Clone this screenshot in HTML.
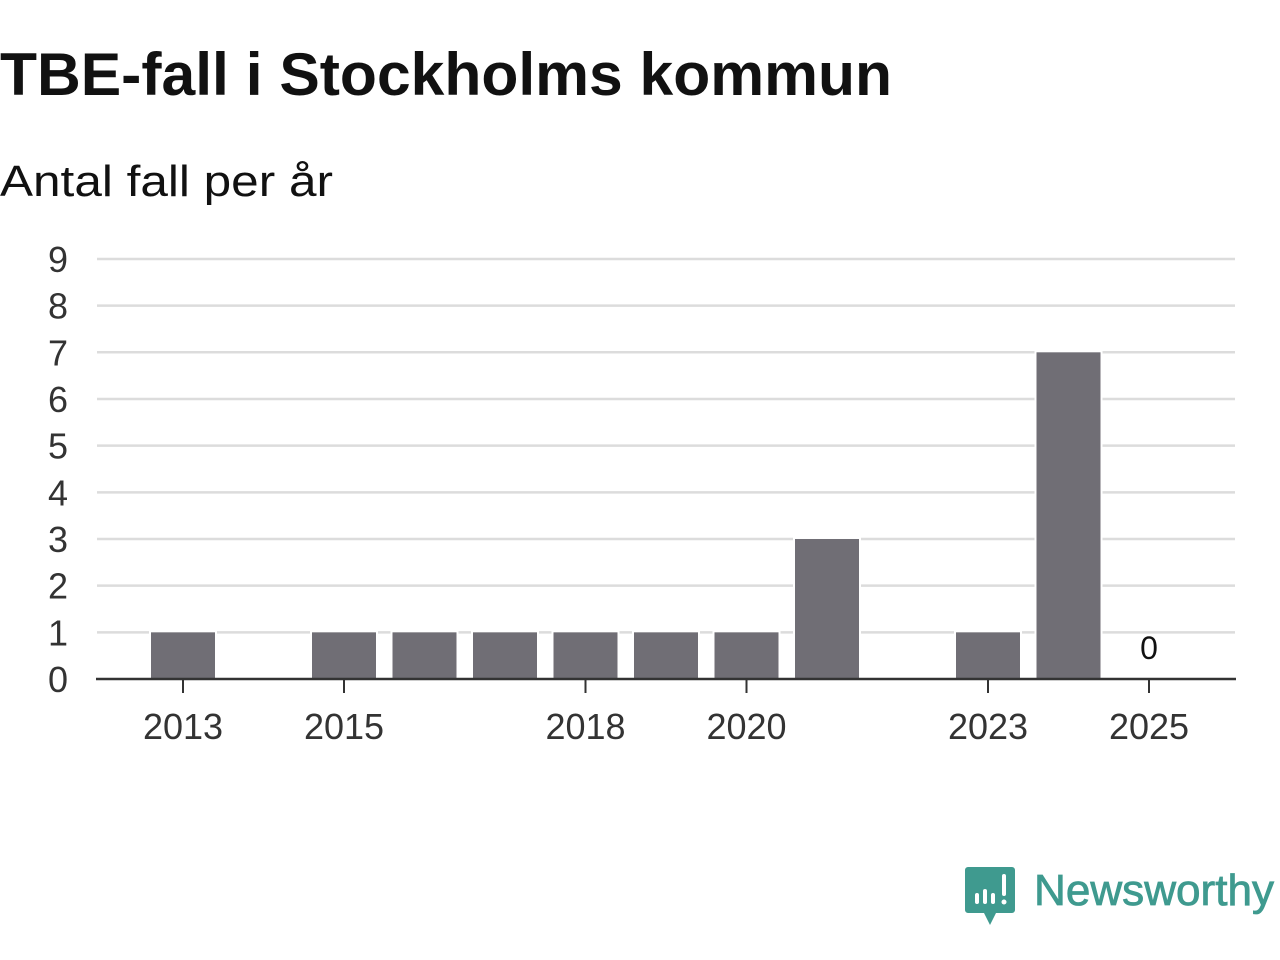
<!DOCTYPE html>
<html><head><meta charset="utf-8"><style>
html,body{margin:0;padding:0;background:#fff;width:1280px;height:960px;overflow:hidden}
svg{display:block;font-family:"Liberation Sans",sans-serif}
</style></head><body>
<svg id="c" width="1280" height="960">
<text x="0" y="95" font-size="60" font-weight="bold" fill="#111" textLength="892" lengthAdjust="spacingAndGlyphs">TBE-fall i Stockholms kommun</text>
<text x="0" y="196" font-size="44" fill="#111" textLength="333" lengthAdjust="spacingAndGlyphs">Antal fall per år</text>
<g id="grid"></g><g id="bars"></g><g id="axes"></g>
<g>
<path d="M968 867 h44 a3 3 0 0 1 3 3 v40 a3 3 0 0 1 -3 3 h-16 l-6 12 l-6 -12 h-16 a3 3 0 0 1 -3 -3 v-40 a3 3 0 0 1 3 -3z" fill="#3f9a8f"/>
<rect x="975" y="893" width="4" height="11" rx="2" fill="#fff"/>
<rect x="983" y="889" width="4" height="15" rx="2" fill="#fff"/>
<rect x="991" y="893" width="4" height="11" rx="2" fill="#fff"/>
<rect x="1002" y="874" width="4" height="22" rx="2" fill="#fff"/>
<circle cx="1004" cy="902" r="2.5" fill="#fff"/>
<text x="1034" y="905" font-size="44" fill="#3f9a8f" stroke="#3f9a8f" stroke-width="0.8" textLength="240" lengthAdjust="spacingAndGlyphs">Newsworthy</text>
</g>
</svg>
<script>
const years=[2013,2014,2015,2016,2017,2018,2019,2020,2021,2022,2023,2024,2025];
const values=[1,0,1,1,1,1,1,1,3,0,1,7,0];
const yTicks=[0,1,2,3,4,5,6,7,8,9];
const xTickLabels=[2013,2015,2018,2020,2023,2025];
const NS="http://www.w3.org/2000/svg";
const x=yr=>183+(yr-2013)*80.5;
const y=v=>679-v*46.67;
function mk(tag,attrs,parent,txt){const e=document.createElementNS(NS,tag);for(const k in attrs)e.setAttribute(k,attrs[k]);if(txt!==undefined)e.textContent=txt;parent.appendChild(e);return e;}
const G=document.getElementById('grid'),B=document.getElementById('bars'),A=document.getElementById('axes');
yTicks.forEach(t=>{
  if(t>0){const l=mk('line',{x1:97,x2:1235,y1:y(t),y2:y(t),stroke:'#dcdcdc','stroke-width':2.5},G);
  
  }
  const tx=mk('text',{x:68,y:y(t)+13,'font-size':36,fill:'#333','text-anchor':'end'},A,String(t));
  
  
});
years.forEach((yr,i)=>{
  const v=values[i];
  if(v>0){const r=mk('rect',{x:x(yr)-33,y:y(v)-1,width:66,height:y(0)-y(v)+1,fill:'#706e75',stroke:'#fff','stroke-width':2},B);
  
  }
});
const last=years.length-1;
const zl=mk('text',{x:x(years[last]),y:y(0)-20,'font-size':32,fill:'#111','text-anchor':'middle'},A,String(values[last]));


const ax=mk('line',{x1:96,x2:1236,y1:y(0),y2:y(0),stroke:'#333','stroke-width':2.5},A);


xTickLabels.forEach(yr=>{
  const t=mk('line',{x1:x(yr),x2:x(yr),y1:y(0),y2:y(0)+14,stroke:'#333','stroke-width':2},A);
  
  
  const l=mk('text',{x:x(yr),y:739,'font-size':36,fill:'#333','text-anchor':'middle'},A,String(yr));
  
  
});
</script>
</body></html>
